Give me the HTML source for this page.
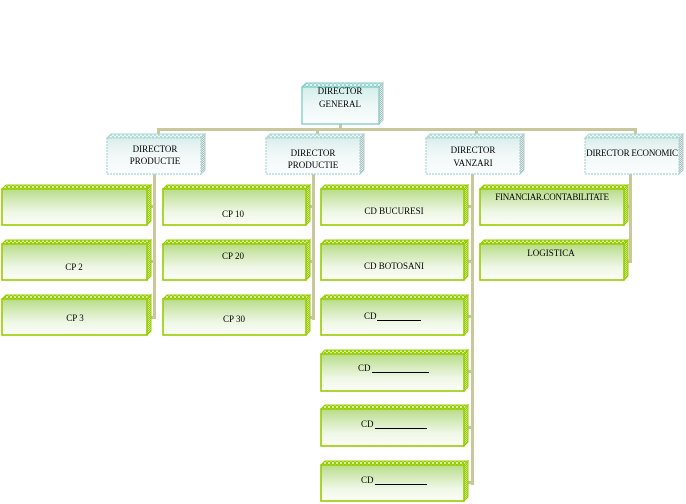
<!DOCTYPE html>
<html>
<head>
<meta charset="utf-8">
<style>
html,body{margin:0;padding:0;background:#fff;}
body{width:686px;height:504px;overflow:hidden;}
svg{display:block;}
text{font-family:"Liberation Serif",serif;font-size:9px;fill:#000;}
.gt{fill:url(#gtop);stroke:#99cc00;stroke-width:1;}
.gr{fill:url(#gside);stroke:#99cc00;stroke-width:1;}
.gf{fill:url(#gfront);stroke:#99cc00;stroke-width:1.6;}
.bt{fill:url(#btop);stroke:#a8d8d4;stroke-width:1;}
.br{fill:url(#bside);stroke:#b4cccc;stroke-width:1;}
.bf{fill:url(#bfront);stroke:#a8d8d4;stroke-width:1.2;stroke-dasharray:2 1;}
.dt{fill:url(#dtop);stroke:#7fccc4;stroke-width:1;}
.df{fill:url(#dfront);stroke:#7fccc4;stroke-width:1.3;}
.c{fill:#c8c89c;}
</style>
</head>
<body>
<svg width="686" height="504" viewBox="0 0 686 504" xmlns="http://www.w3.org/2000/svg">
<defs>
  <pattern id="gtop" width="4" height="4" patternUnits="userSpaceOnUse">
    <rect width="4" height="4" fill="#d6ecaa"/>
    <rect x="0" y="0" width="2" height="2" fill="#99cc00"/>
    <rect x="2" y="2" width="2" height="2" fill="#99cc00"/>
  </pattern>
  <pattern id="gside" width="2" height="2" patternUnits="userSpaceOnUse">
    <rect width="2" height="2" fill="#cfe8a0"/>
    <rect x="0" y="0" width="1" height="1" fill="#99cc00"/>
    <rect x="1" y="1" width="1" height="1" fill="#99cc00"/>
  </pattern>
  <linearGradient id="gfront" x1="0" y1="0" x2="0" y2="1">
    <stop offset="0" stop-color="#b8dc86"/>
    <stop offset="0.35" stop-color="#d6ebbd"/>
    <stop offset="0.65" stop-color="#eff7e6"/>
    <stop offset="1" stop-color="#fbfdf6"/>
  </linearGradient>
  <pattern id="btop" width="4" height="4" patternUnits="userSpaceOnUse">
    <rect width="4" height="4" fill="#eef7f6"/>
    <rect x="0" y="0" width="2" height="2" fill="#b8dedb"/>
    <rect x="2" y="2" width="2" height="2" fill="#b8dedb"/>
  </pattern>
  <pattern id="bside" width="2" height="2" patternUnits="userSpaceOnUse">
    <rect width="2" height="2" fill="#e4ecec"/>
    <rect x="0" y="0" width="1" height="1" fill="#a8bcbc"/>
    <rect x="1" y="1" width="1" height="1" fill="#a8bcbc"/>
  </pattern>
  <linearGradient id="bfront" x1="0" y1="0" x2="0" y2="1">
    <stop offset="0" stop-color="#dbeeec"/>
    <stop offset="0.45" stop-color="#f0f8f7"/>
    <stop offset="1" stop-color="#fcfefe"/>
  </linearGradient>
  <pattern id="dtop" width="4" height="4" patternUnits="userSpaceOnUse">
    <rect width="4" height="4" fill="#e2f4f2"/>
    <rect x="0" y="0" width="2" height="2" fill="#9ed8d2"/>
    <rect x="2" y="2" width="2" height="2" fill="#9ed8d2"/>
  </pattern>
  <linearGradient id="dfront" x1="0" y1="0" x2="0" y2="1">
    <stop offset="0" stop-color="#d2eeea"/>
    <stop offset="0.5" stop-color="#eef8f7"/>
    <stop offset="1" stop-color="#fbfefd"/>
  </linearGradient>
</defs>

<!-- connectors -->
<rect class="c" x="157" y="128" width="480" height="3"/>
<rect class="c" x="339" y="123" width="3" height="6"/>
<rect class="c" x="157" y="128" width="3" height="7"/>
<rect class="c" x="316" y="128" width="3" height="7"/>
<rect class="c" x="475" y="128" width="3" height="7"/>
<rect class="c" x="634" y="128" width="3" height="7"/>

<rect class="c" x="153" y="174" width="3" height="145"/>
<rect class="c" x="149" y="205" width="5" height="3"/>
<rect class="c" x="149" y="260" width="5" height="3"/>
<rect class="c" x="149" y="316" width="5" height="3"/>

<rect class="c" x="312" y="174" width="3" height="146"/>
<rect class="c" x="308" y="205" width="5" height="3"/>
<rect class="c" x="308" y="260" width="5" height="3"/>
<rect class="c" x="308" y="316" width="5" height="3"/>

<rect class="c" x="471" y="174" width="3" height="311"/>
<rect class="c" x="467" y="205" width="5" height="3"/>
<rect class="c" x="467" y="260" width="5" height="3"/>
<rect class="c" x="467" y="315" width="5" height="3"/>
<rect class="c" x="467" y="370" width="5" height="3"/>
<rect class="c" x="467" y="426" width="5" height="3"/>
<rect class="c" x="467" y="481" width="5" height="3"/>

<rect class="c" x="629" y="174" width="3" height="89"/>
<rect class="c" x="626" y="205" width="4" height="3"/>
<rect class="c" x="626" y="260" width="4" height="3"/>

<!-- Director General -->
<polygon class="dt" points="302,87 306,83 383,83 379,87"/>
<polygon class="br" points="379,87 383,83 383,120 379,124"/>
<rect class="df" x="302" y="87" width="77" height="37"/>

<!-- blue boxes -->
<polygon class="bt" points="107,138 111,134 205,134 201,138"/>
<polygon class="br" points="201,138 205,134 205,170 201,174"/>
<rect class="bf" x="107" y="138" width="94" height="36"/>

<polygon class="bt" points="266,138 270,134 364,134 360,138"/>
<polygon class="br" points="360,138 364,134 364,170 360,174"/>
<rect class="bf" x="266" y="138" width="94" height="36"/>

<polygon class="bt" points="426,138 430,134 524,134 520,138"/>
<polygon class="br" points="520,138 524,134 524,170 520,174"/>
<rect class="bf" x="426" y="138" width="94" height="36"/>

<polygon class="bt" points="585,138 589,134 683,134 679,138"/>
<polygon class="br" points="679,138 683,134 683,170 679,174"/>
<rect class="bf" x="585" y="138" width="94" height="36"/>

<!-- green col1 -->
<polygon class="gt" points="2,189 6,185 151,185 147,189"/>
<polygon class="gr" points="147,189 151,185 151,221 147,225"/>
<rect class="gf" x="2" y="189" width="145" height="36"/>
<polygon class="gt" points="2,244 6,240 151,240 147,244"/>
<polygon class="gr" points="147,244 151,240 151,276 147,280"/>
<rect class="gf" x="2" y="244" width="145" height="36"/>
<polygon class="gt" points="2,299 6,295 151,295 147,299"/>
<polygon class="gr" points="147,299 151,295 151,331 147,335"/>
<rect class="gf" x="2" y="299" width="145" height="36"/>

<!-- green col2 -->
<polygon class="gt" points="163,189 167,185 310,185 306,189"/>
<polygon class="gr" points="306,189 310,185 310,221 306,225"/>
<rect class="gf" x="163" y="189" width="143" height="36"/>
<polygon class="gt" points="163,244 167,240 310,240 306,244"/>
<polygon class="gr" points="306,244 310,240 310,276 306,280"/>
<rect class="gf" x="163" y="244" width="143" height="36"/>
<polygon class="gt" points="163,299 167,295 310,295 306,299"/>
<polygon class="gr" points="306,299 310,295 310,331 306,335"/>
<rect class="gf" x="163" y="299" width="143" height="36"/>

<!-- green col3 -->
<polygon class="gt" points="321,189 325,185 468,185 464,189"/>
<polygon class="gr" points="464,189 468,185 468,221 464,225"/>
<rect class="gf" x="321" y="189" width="143" height="36"/>
<polygon class="gt" points="321,244 325,240 468,240 464,244"/>
<polygon class="gr" points="464,244 468,240 468,276 464,280"/>
<rect class="gf" x="321" y="244" width="143" height="36"/>
<polygon class="gt" points="321,299 325,295 468,295 464,299"/>
<polygon class="gr" points="464,299 468,295 468,331 464,335"/>
<rect class="gf" x="321" y="299" width="143" height="36"/>
<polygon class="gt" points="321,354 325,350 468,350 464,354"/>
<polygon class="gr" points="464,354 468,350 468,387 464,391"/>
<rect class="gf" x="321" y="354" width="143" height="37"/>
<polygon class="gt" points="321,409 325,405 468,405 464,409"/>
<polygon class="gr" points="464,409 468,405 468,442 464,446"/>
<rect class="gf" x="321" y="409" width="143" height="37"/>
<polygon class="gt" points="321,465 325,461 468,461 464,465"/>
<polygon class="gr" points="464,465 468,461 468,497 464,501"/>
<rect class="gf" x="321" y="465" width="143" height="36"/>

<!-- green col4 -->
<polygon class="gt" points="480,189 484,185 628,185 624,189"/>
<polygon class="gr" points="624,189 628,185 628,221 624,225"/>
<rect class="gf" x="480" y="189" width="144" height="36"/>
<polygon class="gt" points="480,244 484,240 628,240 624,244"/>
<polygon class="gr" points="624,244 628,240 628,276 624,280"/>
<rect class="gf" x="480" y="244" width="144" height="36"/>

<!-- text -->
<text x="340" y="94" text-anchor="middle">DIRECTOR</text>
<text x="340" y="107" text-anchor="middle">GENERAL</text>

<text x="155" y="152" text-anchor="middle">DIRECTOR</text>
<text x="155" y="164" text-anchor="middle">PRODUCTIE</text>

<text x="313" y="156" text-anchor="middle">DIRECTOR</text>
<text x="313" y="168" text-anchor="middle">PRODUCTIE</text>

<text x="473" y="153" text-anchor="middle">DIRECTOR</text>
<text x="473" y="166" text-anchor="middle">VANZARI</text>

<text x="632" y="156" text-anchor="middle" letter-spacing="-0.2">DIRECTOR ECONOMIC</text>

<text x="74" y="270" text-anchor="middle">CP 2</text>
<text x="75" y="321" text-anchor="middle">CP 3</text>

<text x="233" y="217" text-anchor="middle">CP 10</text>
<text x="233" y="259" text-anchor="middle">CP 20</text>
<text x="234" y="322" text-anchor="middle">CP 30</text>

<text x="394" y="214" text-anchor="middle">CD BUCURESI</text>
<text x="394" y="269" text-anchor="middle">CD BOTOSANI</text>

<text x="364" y="319">CD</text>
<line x1="377" y1="320.5" x2="421" y2="320.5" stroke="#000" stroke-width="1"/>
<text x="358" y="371">CD</text>
<line x1="372" y1="372.5" x2="429" y2="372.5" stroke="#000" stroke-width="1"/>
<text x="361" y="427">CD</text>
<line x1="375" y1="428.5" x2="427" y2="428.5" stroke="#000" stroke-width="1"/>
<text x="361" y="483">CD</text>
<line x1="375" y1="484.5" x2="427" y2="484.5" stroke="#000" stroke-width="1"/>

<text x="552" y="200" text-anchor="middle" letter-spacing="-0.3">FINANCIAR.CONTABILITATE</text>
<text x="551" y="256" text-anchor="middle">LOGISTICA</text>
</svg>
</body>
</html>
